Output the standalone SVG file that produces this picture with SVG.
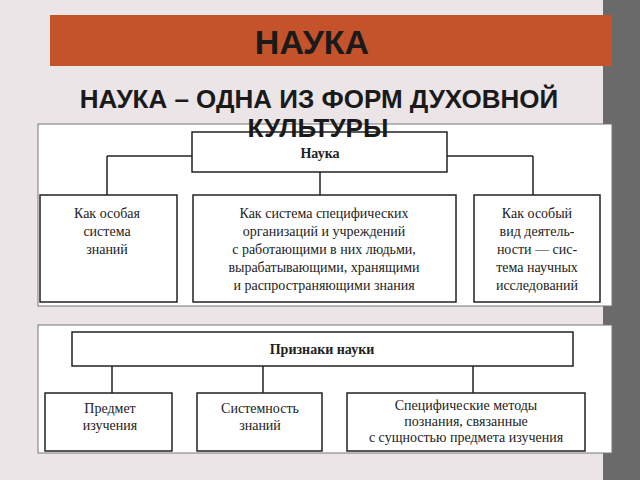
<svg xmlns="http://www.w3.org/2000/svg" width="640" height="480" viewBox="0 0 640 480">
<style>
.b{fill:#fff;stroke:#222;stroke-width:1.5}
.p{fill:#fff;stroke:#777;stroke-width:1}
.t{font-family:"Liberation Serif",serif;font-size:14px;fill:#222;text-anchor:middle}
.h{font-family:"Liberation Sans",sans-serif;font-weight:bold;fill:#1a1a1a;text-anchor:middle}
#c line{stroke:#222;stroke-width:1.5}
</style>
<rect width="640" height="480" fill="#ebe5e7"/>
<rect x="603" y="0" width="37" height="480" fill="#6a6a6a"/>
<rect x="50" y="15" width="562" height="51" fill="#c4532b"/>
<text class="h" x="312" y="54" font-size="34">НАУКА</text>
<rect class="p" x="38" y="124" width="574" height="182"/>
<rect class="p" x="38" y="325" width="574" height="128"/>
<text class="h" x="319" y="108" font-size="26">НАУКА – ОДНА ИЗ ФОРМ ДУХОВНОЙ</text>
<g id="c">
<line x1="107" y1="156" x2="192" y2="156"/><line x1="107" y1="156" x2="107" y2="195"/>
<line x1="447" y1="156" x2="533" y2="156"/><line x1="533" y1="156" x2="533" y2="195"/>
<line x1="320" y1="172" x2="320" y2="195"/>
<line x1="112" y1="366" x2="112" y2="393"/>
<line x1="263" y1="366" x2="263" y2="393"/>
<line x1="473" y1="366" x2="473" y2="393"/>
</g>
<g id="n1"><rect class="b" x="192" y="132" width="255" height="40"/><text class="t" x="320" y="158" font-weight="bold">Наука</text></g>
<text class="h" x="318" y="137" font-size="26">КУЛЬТУРЫ</text>
<g id="n2"><rect class="b" x="40" y="195" width="137" height="107"/><text class="t" x="107" y="218">Как особая</text><text class="t" x="107" y="236">система</text><text class="t" x="107" y="254">знаний</text></g>
<g id="n3"><rect class="b" x="193" y="195" width="263" height="107"/><text class="t" x="324" y="218">Как система специфических</text><text class="t" x="324" y="236">организаций и учреждений</text><text class="t" x="324" y="254">с работающими в них людьми,</text><text class="t" x="324" y="272">вырабатывающими, хранящими</text><text class="t" x="324" y="290">и распространяющими знания</text></g>
<g id="n4"><rect class="b" x="474" y="195" width="126" height="107"/><text class="t" x="537" y="218">Как особый</text><text class="t" x="537" y="236">вид деятель-</text><text class="t" x="537" y="254">ности — сис-</text><text class="t" x="537" y="272">тема научных</text><text class="t" x="537" y="290">исследований</text></g>
<g id="n5"><rect class="b" x="72" y="332" width="501" height="34"/><text class="t" x="322" y="354" font-weight="bold">Признаки науки</text></g>
<g id="n6"><rect class="b" x="45" y="393" width="127" height="58"/><text class="t" x="110" y="413">Предмет</text><text class="t" x="110" y="430">изучения</text></g>
<g id="n7"><rect class="b" x="197" y="393" width="125" height="58"/><text class="t" x="260" y="413">Системность</text><text class="t" x="260" y="430">знаний</text></g>
<g id="n8"><rect class="b" x="347" y="393" width="238" height="58"/><text class="t" x="466" y="410">Специфические методы</text><text class="t" x="466" y="426">познания, связанные</text><text class="t" x="466" y="442">с сущностью предмета изучения</text></g>
</svg>
